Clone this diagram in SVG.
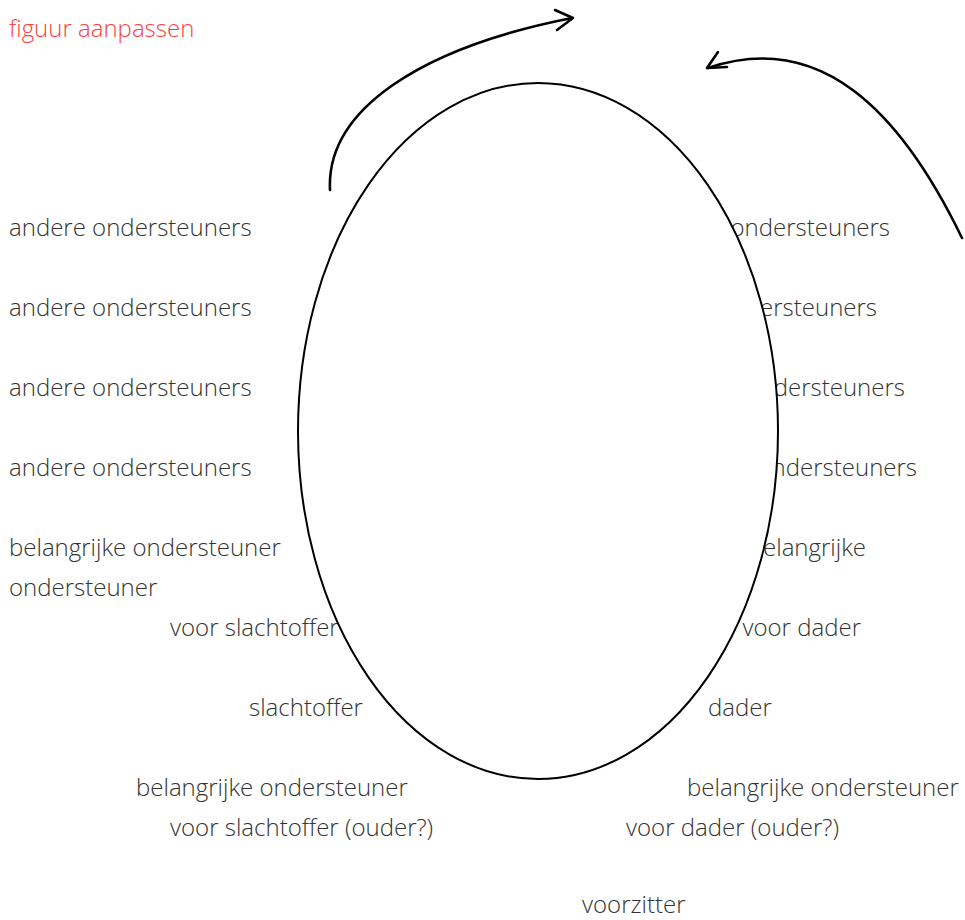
<svg xmlns="http://www.w3.org/2000/svg" width="965" height="920" viewBox="0 0 965 920">
<style>
.t{font-family:"Open Sans","Lato","Liberation Sans",sans-serif;font-weight:300;font-size:24px;fill:#333}
.r{text-anchor:end}
.title{font-family:"Open Sans","Lato","Liberation Sans",sans-serif;font-weight:300;font-size:24px;fill:#ff4040}
.arc{fill:none;stroke:#000;stroke-width:2.6;stroke-linecap:round;stroke-linejoin:round}
</style>
<rect width="965" height="920" fill="#fff"/>
<text class="title" x="9" y="37">figuur aanpassen</text>
<g id="labels-left">
<text class="t" x="9" y="236">andere ondersteuners</text>
<text class="t" x="9" y="316">andere ondersteuners</text>
<text class="t" x="9" y="396">andere ondersteuners</text>
<text class="t" x="9" y="476">andere ondersteuners</text>
<text class="t" x="9" y="556">belangrijke ondersteuner</text>
<text class="t" x="9" y="596">ondersteuner</text>
<text class="t" x="170" y="636">voor slachtoffer</text>
<text class="t" x="249" y="716">slachtoffer</text>
<text class="t" x="136" y="796">belangrijke ondersteuner</text>
<text class="t" x="170" y="836">voor slachtoffer (ouder?)</text>
</g>
<g id="labels-right">
<text class="t r" x="890" y="236">ondersteuners</text>
<text class="t r" x="877" y="316">ersteuners</text>
<text class="t r" x="905" y="396">dersteuners</text>
<text class="t r" x="917" y="476">ndersteuners</text>
<text class="t r" x="866" y="556">elangrijke</text>
<text class="t r" x="861" y="636">voor dader</text>
<text class="t" x="708" y="716">dader</text>
<text class="t" x="687" y="796">belangrijke ondersteuner</text>
<text class="t" x="626" y="836">voor dader (ouder?)</text>
<text class="t" x="582" y="913">voorzitter</text>
</g>
<g id="circle">
<ellipse cx="538" cy="431" rx="240" ry="348" fill="#fff" stroke="#000" stroke-width="2"/>
</g>
<g id="connectors">
<path class="arc" d="M330,190 C326,110 420,48 572,18"/>
<polyline class="arc" points="555,10 573,18 557,30"/>
<path class="arc" d="M962,238 C900,110 820,30 708,68"/>
<polyline class="arc" points="718,52 707,68 727,67"/>
</g>
</svg>
